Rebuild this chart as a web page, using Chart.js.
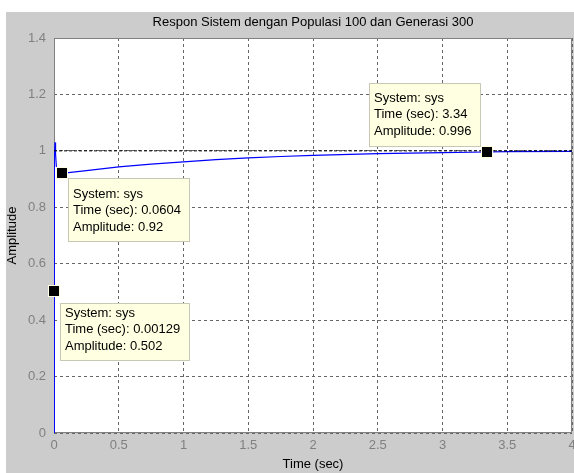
<!DOCTYPE html>
<html>
<head>
<meta charset="utf-8">
<script src="https://cdn.jsdelivr.net/npm/chart.js@4/dist/chart.umd.min.js"></script>
<style>
  body { margin: 0; background: #fff; }
</style>
</head>
<body>
<canvas id="chart" width="574" height="473"></canvas>
<script>
// step response
const stepTime = [0, 0.00129, 0.004, 0.008, 0.012, 0.018, 0.03, 0.0604, 0.25, 0.5, 0.75, 1, 1.25, 1.5, 1.75, 2, 2.5, 3, 3.34, 3.5, 4];
const stepAmp = [0, 0.502, 0.98, 1.03, 0.99, 0.945, 0.925, 0.92, 0.93, 0.943, 0.953, 0.961, 0.969, 0.975, 0.98, 0.984, 0.99, 0.994, 0.996, 0.997, 0.998];

const finalValue = 1;

// data tips
const tipTime = [0.00129, 0.0604, 3.34];
const tipAmp = [0.502, 0.92, 0.996];
const tipLabel = ['0.00129', '0.0604', '3.34'];
const tipAmpLabel = ['0.502', '0.92', '0.996'];

const xTicks = [0, 0.5, 1, 1.5, 2, 2.5, 3, 3.5, 4];
const yTicks = [0, 0.2, 0.4, 0.6, 0.8, 1, 1.2, 1.4];

const titleText = 'Respon Sistem dengan Populasi 100 dan Generasi 300';

const FONT = '"Liberation Sans", Arial, sans-serif';
Chart.defaults.font.family = FONT;
Chart.defaults.font.size = 13;

// box offsets from marker (left, top), height, first text line offset
const tipBox = [
    {dx: 6, dy: 12, h: 58, ty: 10},
    {dx: 6, dy: 5, h: 64, ty: 16},
    {dx: -118, dy: -69, h: 64, ty: 15}
];

const fmt = v => String(+Number(v).toFixed(2));

const background = {
    id: 'background',
    beforeDraw(chart) {
        const {ctx, chartArea: a} = chart;
        ctx.save();
        ctx.fillStyle = '#fff';
        ctx.fillRect(0, 0, chart.width, chart.height);
        ctx.fillStyle = '#cccccc';
        ctx.fillRect(6, 12, chart.width - 6, chart.height - 12);
        ctx.fillStyle = '#fff';
        ctx.fillRect(a.left, a.top, a.right - a.left, a.bottom - a.top);
        ctx.restore();
    },
    beforeDatasetsDraw(chart) {
        const {ctx, chartArea: a} = chart;
        ctx.save();
        // axes box under the lines
        ctx.strokeStyle = '#808080';
        ctx.lineWidth = 1;
        ctx.strokeRect(a.left + 0.5, a.top + 0.5, a.right - a.left - 1, a.bottom - a.top - 1);
        ctx.restore();
    },
    afterDraw(chart) {
        const {ctx, chartArea: a} = chart;
        ctx.save();
        ctx.fillStyle = '#000';
        ctx.font = '13px ' + FONT;
        ctx.textAlign = 'center';
        ctx.textBaseline = 'middle';
        ctx.fillText(titleText, (a.left + a.right) / 2, 22);
        ctx.restore();
    }
};

const dataTips = {
    id: 'dataTips',
    afterDraw(chart) {
        const {ctx} = chart;
        const xs = chart.scales.x, ys = chart.scales.y;
        ctx.save();
        ctx.font = '13px ' + FONT;
        ctx.textBaseline = 'middle';
        ctx.textAlign = 'left';
        tipTime.forEach((t, i) => {
            const px = Math.round(xs.getPixelForValue(t));
            const py = Math.round(ys.getPixelForValue(tipAmp[i]));
            const lines = ['System: sys', 'Time (sec): ' + tipLabel[i], 'Amplitude: ' + tipAmpLabel[i]];
            const w = Math.ceil(Math.max(...lines.map(s => ctx.measureText(s).width))) + 14;
            const b = tipBox[i];
            const bx = px + b.dx, by = py + b.dy;
            ctx.fillStyle = '#ffffe1';
            ctx.fillRect(bx, by, w, b.h);
            ctx.strokeStyle = '#c8c8b4';
            ctx.lineWidth = 1;
            ctx.strokeRect(bx + 0.5, by + 0.5, w - 1, b.h - 1);
            ctx.fillStyle = '#000';
            lines.forEach((s, k) => ctx.fillText(s, bx + 5, by + b.ty + k * 16.5));
            // marker
            ctx.fillStyle = '#ffffe1';
            ctx.fillRect(px - 6, py - 6, 12, 12);
            ctx.fillStyle = '#000';
            ctx.fillRect(px - 5, py - 5, 10, 10);
        });
        ctx.restore();
    }
};

new Chart(document.querySelector('#chart'), {
    type: 'scatter',
    data: {
        datasets: [{
            label: 'final',
            data: [{x: xTicks[0], y: finalValue}, {x: xTicks[xTicks.length - 1], y: finalValue}],
            showLine: true,
            borderColor: '#000',
            borderWidth: 1,
            borderDash: [3, 2],
            pointRadius: 0
        }, {
            label: 'sys',
            data: stepTime.map((t, i) => ({x: t, y: stepAmp[i]})),
            showLine: true,
            borderColor: '#0000ff',
            borderWidth: 1.2,
            pointRadius: 0,
            tension: 0
        }]
    },
    options: {
        responsive: false,
        animation: false,
        devicePixelRatio: 1,
        layout: {padding: {left: 0, top: 38, right: 2, bottom: 0}},
        plugins: {
            legend: {display: false},
            tooltip: {enabled: false}
        },
        scales: {
            x: {
                type: 'linear',
                min: 0,
                max: 4,
                afterFit(scale) {
                    scale.height = 40;
                    scale.paddingLeft = 0;
                    scale.paddingRight = 0;
                },
                afterBuildTicks(scale) { scale.ticks = xTicks.map(v => ({value: v})); },
                ticks: {color: '#808080', padding: 5, maxRotation: 0, callback: fmt},
                grid: {color: '#666', drawTicks: false, lineWidth: 1},
                border: {display: false, dash: [3, 3]},
                title: {display: true, text: 'Time (sec)', color: '#000', padding: {top: 0, bottom: 1}}
            },
            y: {
                min: 0,
                max: 1.4,
                afterFit(scale) {
                    scale.width = 54;
                    scale.paddingTop = 0;
                    scale.paddingBottom = 0;
                },
                afterBuildTicks(scale) { scale.ticks = yTicks.map(v => ({value: v})); },
                ticks: {color: '#808080', padding: 8, callback: fmt},
                grid: {color: '#666', drawTicks: false, lineWidth: 1},
                border: {display: false, dash: [3, 3]},
                title: {display: true, text: 'Amplitude', color: '#000', padding: {top: 5, bottom: 0}}
            }
        }
    },
    plugins: [background, dataTips]
});
</script>
</body>
</html>
